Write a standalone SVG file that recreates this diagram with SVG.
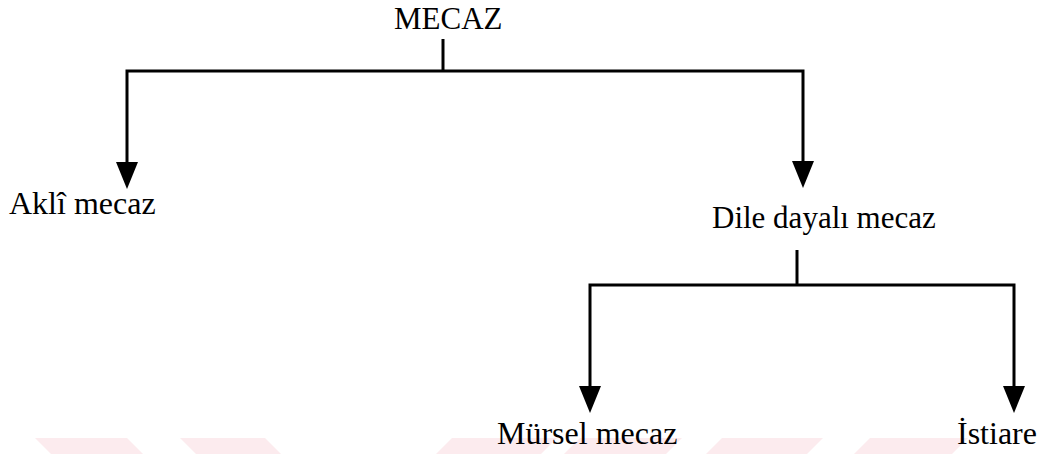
<svg xmlns="http://www.w3.org/2000/svg" width="1052" height="454" viewBox="0 0 1052 454">
  <style>
    .lbl { font-family: "Liberation Serif", "Times New Roman", serif; font-size: 32px; fill: #000; }
    .wire { fill: none; stroke: #000; stroke-width: 3; }
    .band { fill: #fcebee; }
  </style>
  <defs>
    <marker id="head" markerUnits="userSpaceOnUse" viewBox="0 0 22 27" markerWidth="22" markerHeight="27" refX="11" refY="10" orient="0">
      <path d="M0,0 L22,0 L11,27 Z" fill="#000"/>
    </marker>
  </defs>
  <rect width="1052" height="454" fill="#fff"/>

  <!-- pale stripe band along the bottom edge -->
  <g id="band">
    <polygon class="band" points="35,438 127,438 143,454 51,454"/>
    <polygon class="band" points="180,438 265,438 281,454 196,454"/>
    <polygon class="band" points="452,438 557,438 541,454 436,454"/>
    <polygon class="band" points="580,438 682,438 666,454 564,454"/>
    <polygon class="band" points="722,438 823,438 807,454 706,454"/>
    <polygon class="band" points="870,438 968,438 952,454 854,454"/>
  </g>

  <g id="connectors">
    <path class="wire" d="M443,39 V71"/>
    <path class="wire" d="M443,71 H127 V172" marker-end="url(#head)"/>
    <path class="wire" d="M443,71 H803 V171" marker-end="url(#head)"/>
    <path class="wire" d="M797,250 V285"/>
    <path class="wire" d="M797,285 H590 V396" marker-end="url(#head)"/>
    <path class="wire" d="M797,285 H1014 V396" marker-end="url(#head)"/>
  </g>

  <g id="mecaz"><text class="lbl" x="394" y="29" style="font-size:31px">MECAZ</text></g>
  <g id="akli"><text class="lbl" x="9" y="214">Aklî mecaz</text></g>
  <g id="dile"><text class="lbl" x="712" y="228" style="font-size:31px">Dile dayalı mecaz</text></g>
  <g id="mursel"><text class="lbl" x="497" y="444">Mürsel mecaz</text></g>
  <g id="istiare"><text class="lbl" x="957" y="444">İstiare</text></g>
</svg>
